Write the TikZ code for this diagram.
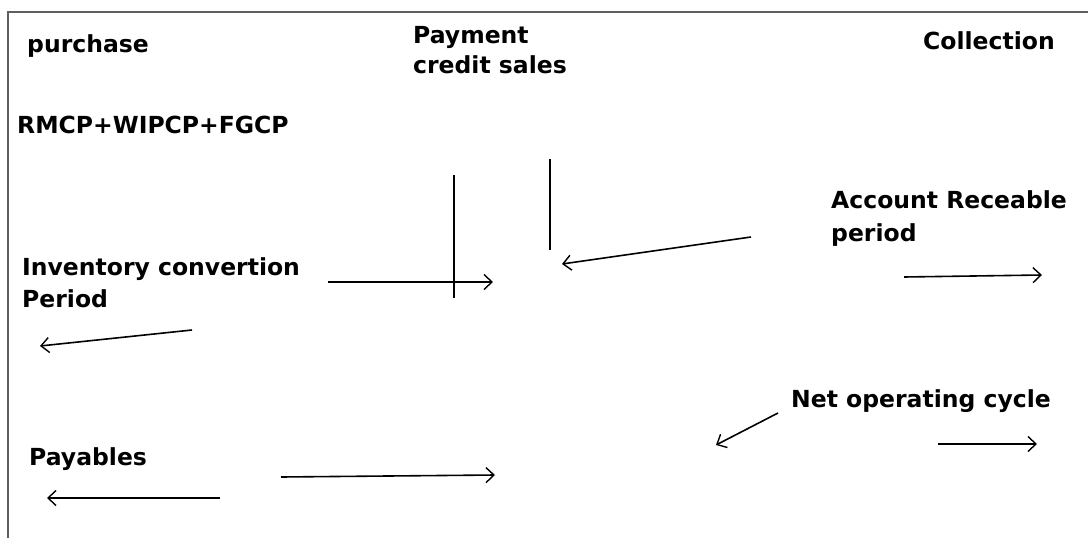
\documentclass[tikz,border=0pt]{standalone}
\usepackage{fontspec}
\setmainfont{DejaVu Sans}
\usetikzlibrary{arrows.meta}
\definecolor{framegray}{RGB}{95,95,95}
\begin{document}
\begin{tikzpicture}[x=1pt,y=-1pt,
  lbl/.style={anchor=base west,inner sep=0pt,font=\fontsize{23.5}{30}\selectfont\bfseries},
  arr/.style={line width=1.6pt,-{Straight Barb[length=8pt,width=15pt,line width=1.4pt]}},
  bar/.style={line width=1.6pt},
  frame/.style={line width=2pt,draw=framegray}]
\useasboundingbox (0,0) rectangle (1088,538);
\fill[white] (0,0) rectangle (1088,538);
% frame (top and left edges only)
\coordinate (fl) at (8,538);
\coordinate (fc) at (8,12);
\coordinate (fr) at (1088,12);
\draw[frame] (fl) -- (fc) -- (fr);
% labels
\node[lbl] (purchase) at (27,52) {purchase};
\node[lbl] (pay1) at (413,43) {Payment};
\node[lbl] (pay2) at (413,73) {credit sales};
\node[lbl] (collection) at (923,49) {Collection};
\node[lbl] (rmcp) at (17,133) {RMCP+WIPCP+FGCP};
\node[lbl] (icp1) at (22,275) {Inventory convertion};
\node[lbl] (icp2) at (22,307) {Period};
\node[lbl] (ar1) at (831,208) {Account Receable};
\node[lbl] (ar2) at (831,241) {period};
\node[lbl] (noc) at (791,407) {Net operating cycle};
\node[lbl] (payables) at (29,465) {Payables};
% vertical bars
\coordinate (v1t) at (454,175);
\coordinate (v1b) at (454,298);
\draw[bar] (v1t) -- (v1b);
\coordinate (v2t) at (550,159);
\coordinate (v2b) at (550,250);
\draw[bar] (v2t) -- (v2b);
% arrows
\coordinate (a1s) at (328,282);
\coordinate (a1e) at (493,282);
\draw[arr] (a1s) -- (a1e);
\coordinate (a2s) at (751,237);
\coordinate (a2e) at (562,264);
\draw[arr] (a2s) -- (a2e);
\coordinate (a3s) at (192,330);
\coordinate (a3e) at (40,346);
\draw[arr] (a3s) -- (a3e);
\coordinate (a4s) at (904,277);
\coordinate (a4e) at (1042,275);
\draw[arr] (a4s) -- (a4e);
\coordinate (a5s) at (281,477);
\coordinate (a5e) at (495,475);
\draw[arr] (a5s) -- (a5e);
\coordinate (a6s) at (220,498);
\coordinate (a6e) at (47,498);
\draw[arr] (a6s) -- (a6e);
\coordinate (a7s) at (778,413);
\coordinate (a7e) at (716,445);
\draw[arr] (a7s) -- (a7e);
\coordinate (a8s) at (938,444);
\coordinate (a8e) at (1037,444);
\draw[arr] (a8s) -- (a8e);
\end{tikzpicture}
\end{document}
